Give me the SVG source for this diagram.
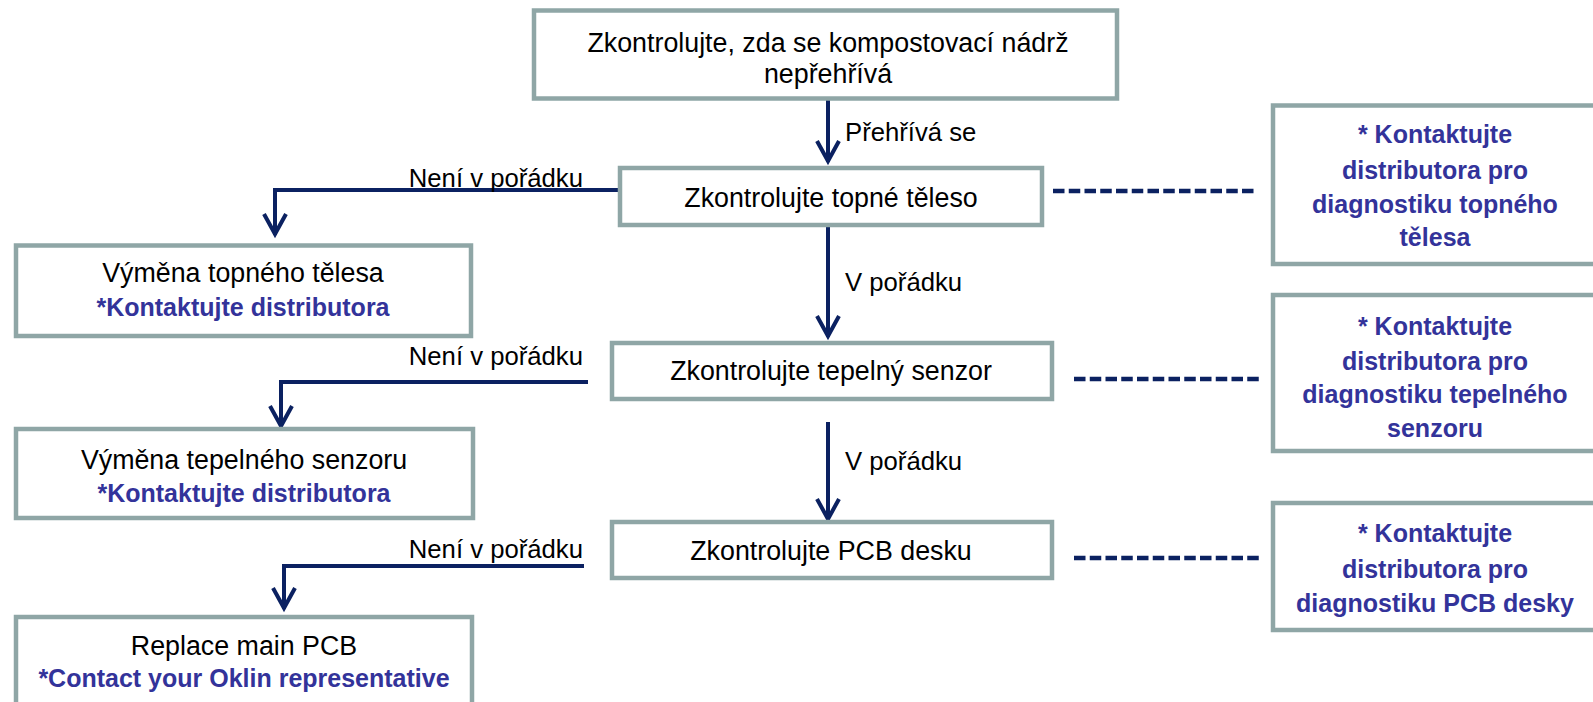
<svg xmlns="http://www.w3.org/2000/svg" width="1593" height="702" viewBox="0 0 1593 702">
<defs>
<style>
.box{fill:#ffffff;stroke:#8FA6A6;stroke-width:4.5}
.t{font-family:"Liberation Sans",Arial,sans-serif;font-size:26.8px;fill:#000000;text-anchor:middle}
.b{font-family:"Liberation Sans",Arial,sans-serif;font-size:25px;font-weight:bold;fill:#33339A;text-anchor:middle}
.lbl{font-family:"Liberation Sans",Arial,sans-serif;font-size:25.7px;fill:#000000}
.c{fill:none;stroke:#0B2161;stroke-width:4}
.d{fill:none;stroke:#0B2161;stroke-width:4.5;stroke-dasharray:11.5 4.25}
</style>
<marker id="ah" markerUnits="userSpaceOnUse" markerWidth="30" markerHeight="30" refX="0" refY="0" orient="auto" overflow="visible">
<path d="M-21,-11 L-1,0 L-21,11" fill="none" stroke="#0B2161" stroke-width="4"/>
</marker>
</defs>
<rect width="1593" height="702" fill="#ffffff"/>
<g id="connectors">
<path class="c" d="M828,99 V162" marker-end="url(#ah)"/>
<path class="c" d="M828,225 V337" marker-end="url(#ah)"/>
<path class="c" d="M828,422 V520" marker-end="url(#ah)"/>
<path class="c" d="M619,190 H275 V235" marker-end="url(#ah)"/>
<path class="c" d="M588,382 H281 V427" marker-end="url(#ah)"/>
<path class="c" d="M584,566 H284 V609" marker-end="url(#ah)"/>
<path class="d" d="M1053,191 H1254"/>
<path class="d" d="M1074,379 H1259"/>
<path class="d" d="M1074,558 H1259"/>
<text class="lbl" x="845" y="141">Přehřívá se</text>
<text class="lbl" x="845" y="291">V pořádku</text>
<text class="lbl" x="845" y="470">V pořádku</text>
<text class="lbl" x="583" y="187" text-anchor="end">Není v pořádku</text>
<text class="lbl" x="583" y="365" text-anchor="end">Není v pořádku</text>
<text class="lbl" x="583" y="558" text-anchor="end">Není v pořádku</text>
</g>
<g id="n-start">
<rect class="box" x="534" y="10.5" width="583" height="88"/>
<text class="t" x="828" y="52">Zkontrolujte, zda se kompostovací nádrž</text>
<text class="t" x="828" y="83">nepřehřívá</text>
</g>
<g id="n-heater">
<rect class="box" x="620" y="168" width="422" height="57"/>
<text class="t" x="831" y="207">Zkontrolujte topné těleso</text>
</g>
<g id="n-sensor">
<rect class="box" x="612" y="343" width="440" height="56"/>
<text class="t" x="831" y="380">Zkontrolujte tepelný senzor</text>
</g>
<g id="n-pcb">
<rect class="box" x="612" y="522" width="440" height="56"/>
<text class="t" x="831" y="560">Zkontrolujte PCB desku</text>
</g>
<g id="n-replace-heater">
<rect class="box" x="16" y="245.5" width="455" height="90.5"/>
<text class="t" x="243" y="282">Výměna topného tělesa</text>
<text class="b" x="243" y="316">*Kontaktujte distributora</text>
</g>
<g id="n-replace-sensor">
<rect class="box" x="16" y="429" width="457" height="89"/>
<text class="t" x="244" y="469">Výměna tepelného senzoru</text>
<text class="b" x="244" y="502">*Kontaktujte distributora</text>
</g>
<g id="n-replace-pcb">
<rect class="box" x="16" y="617" width="456" height="100"/>
<text class="t" x="244" y="655">Replace main PCB</text>
<text class="b" x="244" y="687">*Contact your Oklin representative</text>
</g>
<g id="n-diag-heater">
<rect class="box" x="1273" y="105.5" width="340" height="158.5"/>
<text class="b" x="1435" y="143">* Kontaktujte</text>
<text class="b" x="1435" y="179">distributora pro</text>
<text class="b" x="1435" y="213">diagnostiku topného</text>
<text class="b" x="1435" y="246">tělesa</text>
</g>
<g id="n-diag-sensor">
<rect class="box" x="1273" y="295" width="340" height="156"/>
<text class="b" x="1435" y="335">* Kontaktujte</text>
<text class="b" x="1435" y="370">distributora pro</text>
<text class="b" x="1435" y="403">diagnostiku tepelného</text>
<text class="b" x="1435" y="437">senzoru</text>
</g>
<g id="n-diag-pcb">
<rect class="box" x="1273" y="503" width="340" height="127"/>
<text class="b" x="1435" y="542">* Kontaktujte</text>
<text class="b" x="1435" y="578">distributora pro</text>
<text class="b" x="1435" y="612">diagnostiku PCB desky</text>
</g>
</svg>
